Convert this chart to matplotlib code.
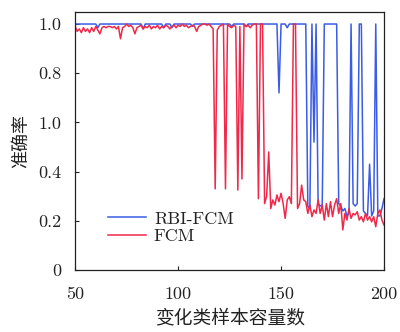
import matplotlib
matplotlib.use("Agg")
import matplotlib.pyplot as plt
import numpy as np

plt.rcParams['font.family'] = ['cmr10', 'Noto Sans CJK SC', 'DejaVu Sans']
plt.rcParams['axes.unicode_minus'] = False
plt.rcParams['axes.formatter.use_mathtext'] = True

x_values = list(range(50, 201))

rbi_fcm = [
    1, 1, 1, 1, 1, 1, 1, 1, 1, 1,
    1, 0.985, 1, 1, 1, 1, 1, 1, 1, 1,
    1, 1, 1, 1, 1, 1, 1, 1, 1, 1,
    1, 1, 1, 0.98, 1, 1, 1, 1, 1, 1,
    1, 1, 1, 0.985, 1, 1, 1, 0.985, 1, 1,
    1, 1, 1, 1, 1, 1, 1, 0.99, 1, 1,
    1, 1, 1, 1, 1, 1, 1, 1, 1, 1,
    1, 1, 1, 1, 1, 1, 0.99, 1, 1, 1,
    1, 1, 1, 0.99, 1, 1, 1, 1, 1, 1,
    1, 1, 1, 1, 1, 1, 1, 1, 1, 0.72,
    1, 1, 1, 0.985, 1, 1, 1, 1, 1, 1,
    1, 1, 1, 0.26, 0.25, 1, 0.52, 1, 0.27, 0.26,
    0.265, 1, 1, 1, 1, 1, 1, 1, 0.27, 0.26,
    0.24, 0.25, 0.22, 0.23, 1, 0.27, 0.26, 0.27, 1, 1,
    0.24, 0.23, 0.22, 0.43, 0.22, 0.24, 1, 0.22, 0.22, 0.25,
    0.29,
]

fcm = [
    0.99, 0.97, 0.98, 0.965, 0.985, 0.97, 0.98, 0.965, 0.985, 0.97,
    0.99, 0.975, 0.96, 0.985, 0.99, 0.985, 0.99, 0.99, 0.985, 0.99,
    0.98, 0.99, 0.94, 0.985, 0.99, 1.0, 0.99, 0.995, 0.985, 0.96,
    0.985, 0.99, 0.995, 0.98, 0.99, 0.985, 0.995, 0.98, 0.99, 0.985,
    0.995, 0.98, 0.99, 0.985, 0.995, 0.99, 0.98, 0.99, 0.995, 0.985,
    0.995, 0.99, 1.0, 0.99, 0.995, 0.985, 0.99, 0.995, 0.99, 0.97,
    0.99, 0.995, 1.0, 1.0, 0.995, 1.0, 0.99, 0.98, 0.33, 0.975,
    0.99, 0.995, 1.0, 0.33, 1.0, 0.99, 0.985, 0.995, 0.99, 0.325,
    0.99, 0.37, 1.0, 0.99, 0.995, 0.985, 0.995, 1.0, 1.0, 0.29,
    1.0, 1.0, 0.27, 0.30, 0.48, 0.25, 0.285, 0.264, 0.305, 0.278,
    0.312, 0.27, 0.21, 0.285, 0.298, 0.27, 1.0, 1.0, 0.25, 0.27,
    0.345, 0.285, 0.278, 0.23, 0.264, 0.217, 0.244, 0.23, 0.285, 0.23,
    0.264, 0.203, 0.27, 0.217, 0.278, 0.217, 0.264, 0.29, 0.23, 0.27,
    0.163, 0.23, 0.203, 0.25, 0.21, 0.23, 0.224, 0.237, 0.203, 0.217,
    0.196, 0.23, 0.203, 0.217, 0.196, 0.217, 0.176, 0.23, 0.244, 0.203,
    0.183,
]

series_names = ['RBI-FCM', 'FCM']
x_ticks = [50, 100, 150, 200]
x_tick_labels = ['50', '100', '150', '200']
y_ticks = [0, 0.2, 0.4, 0.6, 0.8, 1.0]
y_tick_labels = ['0', '0.2', '0.4', '1.0', '0.8', '1.0']
x_label = '变化类样本容量数'
y_label = '准确率'

fig = plt.figure(figsize=(4.0, 3.32), dpi=100)
ax = fig.add_axes([0.188, 0.1867, 0.772, 0.778])

ax.plot(x_values, rbi_fcm, color='#3a5ce6', lw=1.1, label=series_names[0])
ax.plot(x_values, fcm, color='#f0284a', lw=1.1, label=series_names[1])

ax.set_xlim(50, 200)
ax.set_ylim(0, 1.05)
ax.set_xticks(x_ticks)
ax.set_xticklabels(x_tick_labels)
ax.set_yticks(y_ticks)
ax.set_yticklabels(y_tick_labels)
ax.tick_params(axis='both', direction='in', length=3, width=0.8, labelsize=13,
               colors='#222222', top=False, right=False)
ax.tick_params(axis='y', pad=10)
ax.tick_params(axis='x', pad=12)
for s in ax.spines.values():
    s.set_linewidth(0.9)
    s.set_color('#222222')

ax.set_xlabel(x_label, fontsize=13.5, family=['Noto Sans CJK SC'], color='#222222', labelpad=4)
ax.set_ylabel(y_label, fontsize=13, family=['Noto Sans CJK SC'], color='#222222', labelpad=6)

leg = ax.legend(loc='lower left', bbox_to_anchor=(0.106, 0.10), frameon=False,
                fontsize=13, handlelength=2.1, handletextpad=0.45,
                borderpad=0, borderaxespad=0, labelspacing=0.1)
for t in leg.get_texts():
    t.set_color('#222222')

fig.savefig('out.png', dpi=100)
